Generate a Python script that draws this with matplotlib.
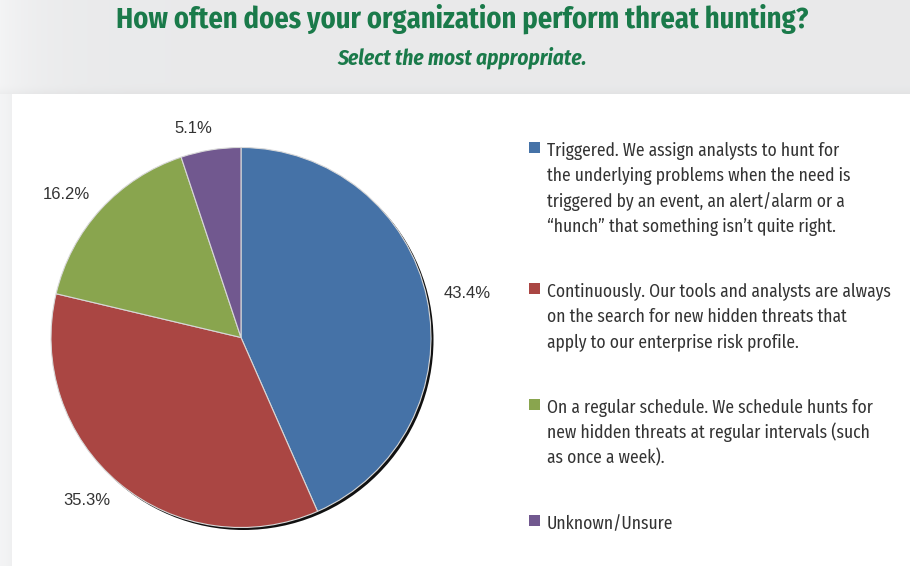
import numpy as np
import matplotlib
matplotlib.use("Agg")
import matplotlib.pyplot as plt
from matplotlib.patches import Circle, Rectangle

W, H = 910, 566

title = "How often does your organization perform threat hunting?"
subtitle = "Select the most appropriate."
categories = [
    "Triggered. We assign analysts to hunt for\n"
    "the underlying problems when the need is\n"
    "triggered by an event, an alert/alarm or a\n"
    "\u201chunch\u201d that something isn\u2019t quite right.",
    "Continuously. Our tools and analysts are always\n"
    "on the search for new hidden threats that\n"
    "apply to our enterprise risk profile.",
    "On a regular schedule. We schedule hunts for\n"
    "new hidden threats at regular intervals (such\n"
    "as once a week).",
    "Unknown/Unsure",
]
shares = [43.4, 35.3, 16.2, 5.1]
colors = ["#4572a7", "#aa4643", "#89a54e", "#71588f"]

GREEN = "#1a7a4a"
TEXT = "#333333"
NARROW = ["Fira Sans Condensed", "DejaVu Sans"]
SANS = ["Liberation Sans", "DejaVu Sans"]

fig = plt.figure(figsize=(W / 100, H / 100), dpi=100)
ax = fig.add_axes([0, 0, 1, 1])

# page background: grey header band, white card with a soft shadow
yy, xx = np.mgrid[0:H, 0:W].astype(float)
bg = np.full((H, W), 0.915)
bg += 0.04 * np.exp(-xx / 40.0)
band = (yy >= 82) & (yy < 94)
bg[band] -= 0.03 * ((yy[band] - 82) / 12.0) ** 2
strip = (yy >= 94) & (xx < 12)
bg[strip] = 0.955 - 0.02 * (xx[strip] / 12.0) ** 2
bg[(yy >= 94) & (xx >= 12)] = 1.0
rgb = np.dstack([bg, bg + 0.002, bg + 0.006]).clip(0, 1)
ax.imshow(rgb, extent=(0, W, 0, H), origin="upper", zorder=0, interpolation="bilinear")

# pie
cx, cy, R = 241.0, H - 337.5, 190.0
ax.add_patch(Circle((cx + 2.5, cy - 2.5), R, color="#111111", zorder=1.5, lw=0))
wedges, _ = ax.pie(
    shares, colors=colors, startangle=90, counterclock=False,
    center=(cx, cy), radius=R,
    wedgeprops=dict(edgecolor="#d8d8d8", linewidth=0.8, zorder=2),
)

for w, v in zip(wedges, shares):
    a = np.deg2rad((w.theta1 + w.theta2) / 2)
    x = cx + (R + 22) * np.cos(a)
    y = cy + (R + 22) * np.sin(a)
    if np.cos(a) >= 0:
        ax.text(x - 5, y, f"{v}%", ha="left", va="center", fontsize=12,
                family=SANS, color=TEXT, zorder=3)
    else:
        ax.text(x + 5, y, f"{v}%", ha="right", va="center", fontsize=12,
                family=SANS, color=TEXT, zorder=3)

renderer = fig.canvas.get_renderer()


def fit_width(t, target):
    w = t.get_window_extent(renderer).width
    t.set_fontsize(t.get_fontsize() * target / w)
    return t.get_fontsize()


# titles
t1 = ax.text(462, H - 28, title, ha="center", va="baseline", fontsize=18,
             fontweight="bold", family=NARROW, color=GREEN, zorder=3)
fit_width(t1, 696)
t2 = ax.text(462, H - 65, subtitle, ha="center", va="baseline", fontsize=14,
             fontweight="bold", style="italic", family=NARROW, color=GREEN, zorder=3)
fit_width(t2, 250)

# legend
longest = max((ln for c in categories for ln in c.split("\n")), key=len)
probe = ax.text(0, 0, longest, fontsize=14, family=NARROW)
leg_size = fit_width(probe, 345)
probe.remove()

pitch, gap = 25.3, 65.3
base = 156.0
for label, col in zip(categories, colors):
    lines = label.split("\n")
    ax.add_patch(Rectangle((529, H - (base - 3)), 11, 11, color=col, lw=0, zorder=3))
    for j, line in enumerate(lines):
        ax.text(547, H - (base + j * pitch), line, ha="left", va="baseline",
                fontsize=leg_size, family=NARROW, color=TEXT, zorder=3)
    base += (len(lines) - 1) * pitch + gap

ax.set_xlim(0, W)
ax.set_ylim(0, H)
ax.set_aspect("auto")
ax.axis("off")

fig.savefig("out.png", dpi=100)
